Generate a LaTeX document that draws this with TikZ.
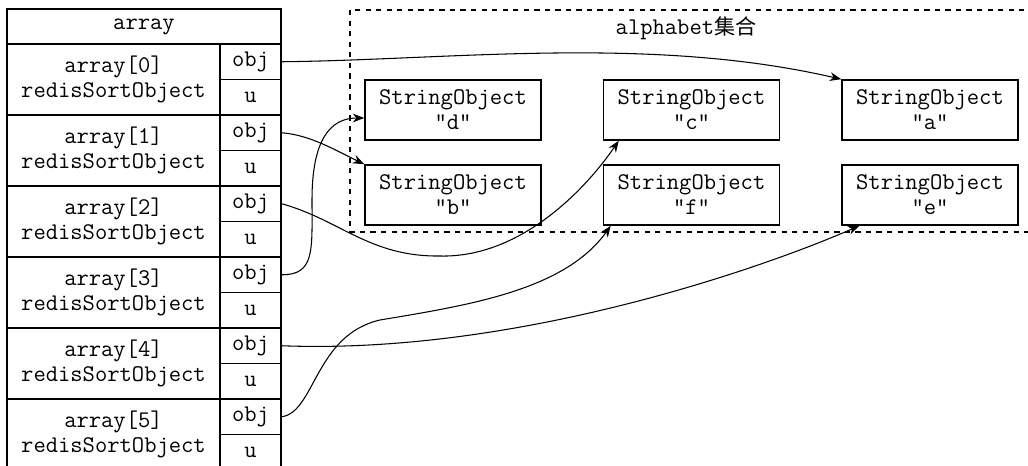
\documentclass[tikz,border=0pt]{standalone}
\usepackage{fontspec}
\newfontfamily\cjkfont{Noto Sans CJK SC}
\usepackage{tikz}
\usetikzlibrary{arrows.meta,calc}

\begin{document}
\begin{tikzpicture}[x=0.02cm, y=-0.02cm,
  cell/.style={draw, line width=0.9pt, inner sep=0pt, align=center,
               font=\ttfamily\fontsize{13.6}{14.2}\selectfont},
  slot/.style={cell, minimum width=4.26cm, minimum height=1.42cm},
  field/.style={cell, minimum width=1.22cm, minimum height=0.71cm},
  strobj/.style={cell, minimum width=3.52cm, minimum height=1.2cm},
  ptr/.style={-{Stealth[length=6.5pt, width=5pt]}, line width=0.6pt},
  setframe/.style={dashed, line width=0.6pt}
]
  \useasboundingbox (0,0) rectangle (1028,466);
  \clip (0,0) rectangle (1028,466);

  % sorted array
  \node[cell, minimum width=5.48cm, minimum height=0.7cm] (head) at (144,26.5) {array};
  \node[slot]  (a0) at (113.5,79.5)  {array[0]\\redisSortObject};
  \node[field] (o0) at (250.5,61.75) {obj};
  \node[field] (u0) at (250.5,97.25) {u};
  \node[slot]  (a1) at (113.5,150.5)  {array[1]\\redisSortObject};
  \node[field] (o1) at (250.5,132.75) {obj};
  \node[field] (u1) at (250.5,168.25) {u};
  \node[slot]  (a2) at (113.5,221.5)  {array[2]\\redisSortObject};
  \node[field] (o2) at (250.5,203.75) {obj};
  \node[field] (u2) at (250.5,239.25) {u};
  \node[slot]  (a3) at (113.5,292.5)  {array[3]\\redisSortObject};
  \node[field] (o3) at (250.5,274.75) {obj};
  \node[field] (u3) at (250.5,310.25) {u};
  \node[slot]  (a4) at (113.5,363.5)  {array[4]\\redisSortObject};
  \node[field] (o4) at (250.5,345.75) {obj};
  \node[field] (u4) at (250.5,381.25) {u};
  \node[slot]  (a5) at (113.5,434.5)  {array[5]\\redisSortObject};
  \node[field] (o5) at (250.5,416.75) {obj};
  \node[field] (u5) at (250.5,452.25) {u};

  % alphabet set
  \draw[setframe] (350,10) rectangle (1045,232);
  \node[font=\ttfamily\fontsize{13.6}{14.2}\selectfont] (title) at (686,28)
    {alphabet{\cjkfont\fontsize{12}{14.2}\selectfont 集合}};
  \node[strobj] (sd) at (453,110)   {StringObject\\"d"};
  \node[strobj] (sc) at (691.5,110) {StringObject\\"c"};
  \node[strobj] (sa) at (930,110)   {StringObject\\"a"};
  \node[strobj] (sb) at (453,195)   {StringObject\\"b"};
  \node[strobj] (sf) at (691.5,195) {StringObject\\"f"};
  \node[strobj] (se) at (930,195)   {StringObject\\"e"};

  % obj pointers
  \draw[ptr] (o0.east) .. controls (450,60) and (650,35) .. (sa.north west);
  \draw[ptr] (o1.east) .. controls (310,135) and (335,150) .. (sb.north west);
  \draw[ptr] (o2.east) .. controls (340,220) and (370,257) .. (440,256)
    .. controls (520,258) and (585,190) .. ($(sc.south west)+(16,0)$);
  \draw[ptr] (o3.east) .. controls (315,275) and (312,250) .. (312,200)
    .. controls (312,140) and (330,118) .. ($(sd.west)+(0,8)$);
  \draw[ptr] (o4.east) .. controls (520,355) and (770,265) .. ($(se.south west)+(18,0)$);
  \draw[ptr] (o5.east) .. controls (315,412) and (315,335) .. (380,320)
    .. controls (470,305) and (565,290) .. ($(sf.south west)+(8,0)$);
\end{tikzpicture}
\end{document}
